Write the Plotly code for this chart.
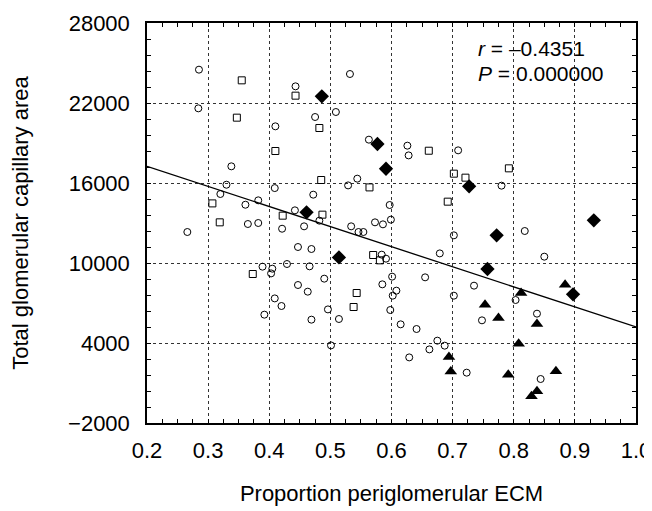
import plotly.graph_objects as go

circle_x = [0.285, 0.443, 0.284, 0.410, 0.338, 0.330, 0.409, 0.320, 0.361, 0.382, 0.442, 0.532, 0.509, 0.475, 0.563,
            0.626, 0.628, 0.709, 0.529, 0.544, 0.472, 0.597, 0.780, 0.266, 0.365, 0.382, 0.421, 0.447, 0.429, 0.389,
            0.405, 0.403, 0.447, 0.409, 0.420, 0.392, 0.482, 0.457, 0.534, 0.546, 0.554, 0.573, 0.586, 0.599, 0.702,
            0.469, 0.584, 0.591, 0.679, 0.466, 0.490, 0.463, 0.601, 0.585, 0.608, 0.602, 0.655, 0.702, 0.496, 0.598,
            0.469, 0.514, 0.615, 0.641, 0.501, 0.675, 0.662, 0.687, 0.629, 0.818, 0.850, 0.735, 0.803, 0.748, 0.838,
            0.723, 0.844]
circle_y = [24500, 23250, 21600, 20250, 17250, 15870, 15620, 15175, 14370, 14700, 13950, 24175, 21325, 20950, 19250,
            18800, 18070, 18450, 15820, 16325, 15125, 14350, 15800, 12325, 12925, 13000, 12570, 11200, 9925, 9725,
            9575, 9220, 8350, 7345, 6775, 6125, 13175, 12750, 12750, 12325, 12325, 13050, 12900, 13250, 12075,
            11050, 10625, 10325, 10720, 9750, 8825, 7850, 8975, 8400, 7925, 7550, 8925, 7550, 6520, 6475,
            5750, 5800, 5400, 5050, 3820, 4175, 3520, 3800, 2920, 12400, 10475, 8300, 7225, 5700, 6200,
            1775, 1300]

square_x = [0.355, 0.443, 0.347, 0.410, 0.307, 0.422, 0.319, 0.373, 0.482, 0.661, 0.702, 0.485, 0.564, 0.692,
            0.487, 0.721, 0.792, 0.570, 0.581, 0.543, 0.538]
square_y = [23700, 22550, 20900, 18400, 14470, 13550, 13050, 9175, 20125, 18420, 16700, 16225, 15670, 14600,
            13625, 16400, 17100, 10600, 10200, 7750, 6700]

diamond_x = [0.486, 0.577, 0.591, 0.461, 0.727, 0.931, 0.514, 0.772, 0.757, 0.897]
diamond_y = [22500, 18925, 17070, 13800, 15750, 13200, 10420, 12075, 9550, 7650]

triangle_x = [0.694, 0.697, 0.884, 0.812, 0.753, 0.775, 0.838, 0.808, 0.791, 0.869, 0.838, 0.829]
triangle_y = [2950, 1870, 8375, 7750, 6875, 5875, 5425, 3950, 1625, 1875, 375, 0]

fit_x = [0.2, 1.0]
fit_y = [17250, 5200]

x_ticks = [0.2, 0.3, 0.4, 0.5, 0.6, 0.7, 0.8, 0.9, 1.0]
x_ticklabels = ["0.2", "0.3", "0.4", "0.5", "0.6", "0.7", "0.8", "0.9", "1.0"]
y_ticks = [-2000, 4000, 10000, 16000, 22000, 28000]
y_ticklabels = ["\u22122000", "4000", "10000", "16000", "22000", "28000"]

FONT = "Liberation Sans, Arial, Helvetica, sans-serif"

fig = go.Figure()
fig.add_trace(go.Scatter(x=fit_x, y=fit_y, mode="lines", line=dict(color="black", width=1.3), showlegend=False))
fig.add_trace(go.Scatter(x=circle_x, y=circle_y, mode="markers", showlegend=False,
                         marker=dict(symbol="circle-open", size=7, color="black", line=dict(width=1))))
fig.add_trace(go.Scatter(x=square_x, y=square_y, mode="markers", showlegend=False,
                         marker=dict(symbol="square-open", size=7, color="black", line=dict(width=1))))
fig.add_trace(go.Scatter(x=diamond_x, y=diamond_y, mode="markers", showlegend=False,
                         marker=dict(symbol="diamond", size=11, color="black")))
fig.add_trace(go.Scatter(x=triangle_x, y=triangle_y, mode="markers", showlegend=False,
                         marker=dict(symbol="triangle-up", size=11, color="black")))

axis_common = dict(
    showline=True, linecolor="black", linewidth=1.5, mirror="ticks",
    ticks="inside", ticklen=4, tickcolor="black",
    showgrid=True, gridcolor="#333", griddash="dot", gridwidth=1,
    zeroline=False, automargin=False,
    tickfont=dict(family=FONT, size=22, color="black"),
)

fig.update_xaxes(range=[0.2, 1.0], tickvals=x_ticks, ticktext=x_ticklabels, ticklabelstandoff=7,
                 minor=dict(dtick=0.025, tick0=0.2, ticks="inside", ticklen=4, tickcolor="black", showgrid=False),
                 title=dict(text="Proportion periglomerular ECM", font=dict(family=FONT, size=22, color="black"),
                            standoff=23),
                 **axis_common)
fig.update_yaxes(range=[-2000, 28000], tickvals=y_ticks, ticktext=y_ticklabels, ticklabelstandoff=11,
                 minor=dict(dtick=1200, tick0=-2000, ticks="inside", ticklen=4, tickcolor="black", showgrid=False),
                 title=dict(text="Total glomerular capillary area", font=dict(family=FONT, size=22, color="black"),
                            standoff=37),
                 **axis_common)

fig.add_annotation(xref="paper", yref="paper", x=0.672, y=0.935, xanchor="left", yanchor="middle",
                   text="<i>r</i> = \u20130.4351", showarrow=False, align="left",
                   font=dict(family=FONT, size=21, color="black"))
fig.add_annotation(xref="paper", yref="paper", x=0.672, y=0.875, xanchor="left", yanchor="middle",
                   text="<i>P</i> = 0.000000", showarrow=False, align="left",
                   font=dict(family=FONT, size=21, color="black"))

# The page body has an 8px default margin, so the margins are shifted to land the plot where the reference has it.
fig.update_layout(
    width=652, height=511,
    margin=dict(l=139, r=24, t=15, b=96),
    plot_bgcolor="white", paper_bgcolor="white",
    font=dict(family=FONT, color="black"),
)

fig.write_html("out.html")
